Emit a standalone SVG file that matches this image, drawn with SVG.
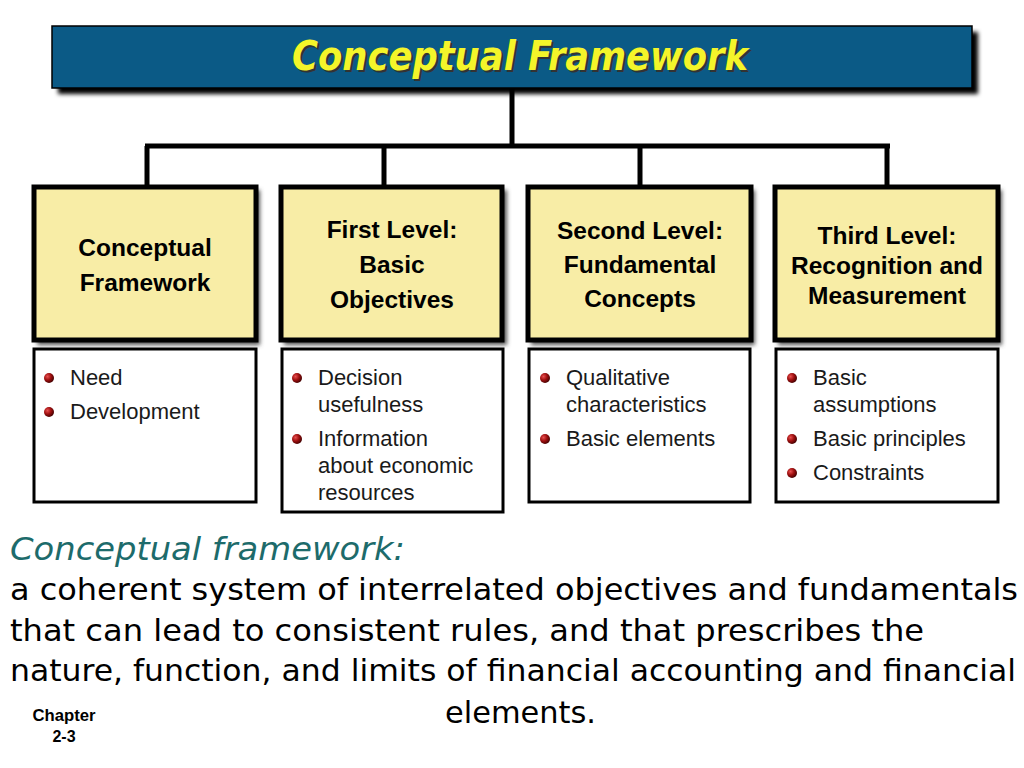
<svg xmlns="http://www.w3.org/2000/svg" width="1024" height="768" viewBox="0 0 1024 768">
<defs>
<radialGradient id="ball" cx="0.35" cy="0.35" r="0.7">
<stop offset="0" stop-color="#e85050"/>
<stop offset="0.5" stop-color="#a01010"/>
<stop offset="1" stop-color="#400000"/>
</radialGradient>
<filter id="sh" x="-5%" y="-5%" width="115%" height="130%">
<feGaussianBlur stdDeviation="2"/>
</filter>
</defs>
<style>
.hdr{fill:#f8eda6;stroke:#000;stroke-width:5}
.body{fill:#fff;stroke:#000;stroke-width:3}
.ht{font-family:"Liberation Sans",Arial,sans-serif;font-weight:bold;font-size:24.5px;fill:#000;text-anchor:middle}
.bt{font-family:"Liberation Sans",Arial,sans-serif;font-size:22px;fill:#1a1a1a}
.conn{stroke:#000;stroke-width:5;fill:none}
.def{font-family:"DejaVu Sans Condensed","DejaVu Sans",sans-serif;font-size:30px;fill:#000}
.ft{font-family:"Liberation Sans",Arial,sans-serif;font-weight:bold;font-size:16px;fill:#000;text-anchor:middle}
</style>
<rect width="1024" height="768" fill="#fff"/>
<g id="title">
<rect x="58" y="32" width="920" height="62" fill="#000" filter="url(#sh)"/>
<rect x="52" y="26" width="920" height="62" fill="#0b5a86" stroke="#000" stroke-width="1.5"/>
<text x="522" y="72" font-family="DejaVu Sans Condensed, DejaVu Sans, sans-serif" font-weight="bold" font-style="italic" font-size="40" fill="#333" text-anchor="middle" textLength="456" lengthAdjust="spacingAndGlyphs">Conceptual Framework</text>
<text x="520" y="70" font-family="DejaVu Sans Condensed, DejaVu Sans, sans-serif" font-weight="bold" font-style="italic" font-size="40" fill="#f4f52a" text-anchor="middle" textLength="456" lengthAdjust="spacingAndGlyphs">Conceptual Framework</text>
</g>
<g id="connectors">
<path class="conn" d="M512 88 V146 M145 146 H890 M147 146 V186 M384 146 V186 M640 146 V186 M887 146 V186"/>
</g>
<g id="node1">
<rect x="37" y="190" width="223" height="155" fill="#555" filter="url(#sh)"/>
<rect class="hdr" x="34" y="187" width="222" height="153"/>
<text class="ht" x="145" y="256">Conceptual</text>
<text class="ht" x="145" y="291">Framework</text>
<rect class="body" x="34" y="349" width="222" height="153"/>
<circle cx="49" cy="378" r="5" fill="url(#ball)"/>
<text class="bt" x="70" y="385">Need</text>
<circle cx="49" cy="412" r="5" fill="url(#ball)"/>
<text class="bt" x="70" y="419">Development</text>
</g>
<g id="node2">
<rect x="284" y="190" width="223" height="155" fill="#555" filter="url(#sh)"/>
<rect class="hdr" x="281" y="187" width="221" height="153"/>
<text class="ht" x="392" y="238">First Level:</text>
<text class="ht" x="392" y="273">Basic</text>
<text class="ht" x="392" y="308">Objectives</text>
<rect class="body" x="282" y="349" width="221" height="163"/>
<circle cx="297" cy="378" r="5" fill="url(#ball)"/>
<text class="bt" x="318" y="385">Decision</text>
<text class="bt" x="318" y="412">usefulness</text>
<circle cx="297" cy="439" r="5" fill="url(#ball)"/>
<text class="bt" x="318" y="446">Information</text>
<text class="bt" x="318" y="473">about economic</text>
<text class="bt" x="318" y="500">resources</text>
</g>
<g id="node3">
<rect x="531" y="190" width="224" height="155" fill="#555" filter="url(#sh)"/>
<rect class="hdr" x="528" y="187" width="223" height="153"/>
<text class="ht" x="640" y="239">Second Level:</text>
<text class="ht" x="640" y="273">Fundamental</text>
<text class="ht" x="640" y="307">Concepts</text>
<rect class="body" x="529" y="349" width="221" height="153"/>
<circle cx="545" cy="378" r="5" fill="url(#ball)"/>
<text class="bt" x="566" y="385">Qualitative</text>
<text class="bt" x="566" y="412">characteristics</text>
<circle cx="545" cy="439" r="5" fill="url(#ball)"/>
<text class="bt" x="566" y="446">Basic elements</text>
</g>
<g id="node4">
<rect x="778" y="190" width="224" height="155" fill="#555" filter="url(#sh)"/>
<rect class="hdr" x="775" y="187" width="223" height="153"/>
<text class="ht" x="887" y="244">Third Level:</text>
<text class="ht" x="887" y="274">Recognition and</text>
<text class="ht" x="887" y="304">Measurement</text>
<rect class="body" x="776" y="349" width="222" height="153"/>
<circle cx="792" cy="378" r="5" fill="url(#ball)"/>
<text class="bt" x="813" y="385">Basic</text>
<text class="bt" x="813" y="412">assumptions</text>
<circle cx="792" cy="439" r="5" fill="url(#ball)"/>
<text class="bt" x="813" y="446">Basic principles</text>
<circle cx="792" cy="473" r="5" fill="url(#ball)"/>
<text class="bt" x="813" y="480">Constraints</text>
</g>
<g id="definition">
<text x="10" y="560" font-family="DejaVu Sans Condensed, DejaVu Sans, sans-serif" font-style="italic" font-size="32" fill="#1d6b6b" textLength="395" lengthAdjust="spacingAndGlyphs">Conceptual framework:</text>
<text class="def" x="10" y="600" textLength="1008" lengthAdjust="spacingAndGlyphs">a coherent system of interrelated objectives and fundamentals</text>
<text class="def" x="10" y="641" textLength="914" lengthAdjust="spacingAndGlyphs">that can lead to consistent rules, and that prescribes the</text>
<text class="def" x="10" y="681" textLength="1006" lengthAdjust="spacingAndGlyphs">nature, function, and limits of financial accounting and financial</text>
<text class="def" x="445" y="723" textLength="151" lengthAdjust="spacingAndGlyphs">elements.</text>
</g>
<g id="footer">
<text class="ft" x="64" y="721" textLength="63" lengthAdjust="spacingAndGlyphs">Chapter</text>
<text class="ft" x="64" y="742">2-3</text>
</g>
</svg>
